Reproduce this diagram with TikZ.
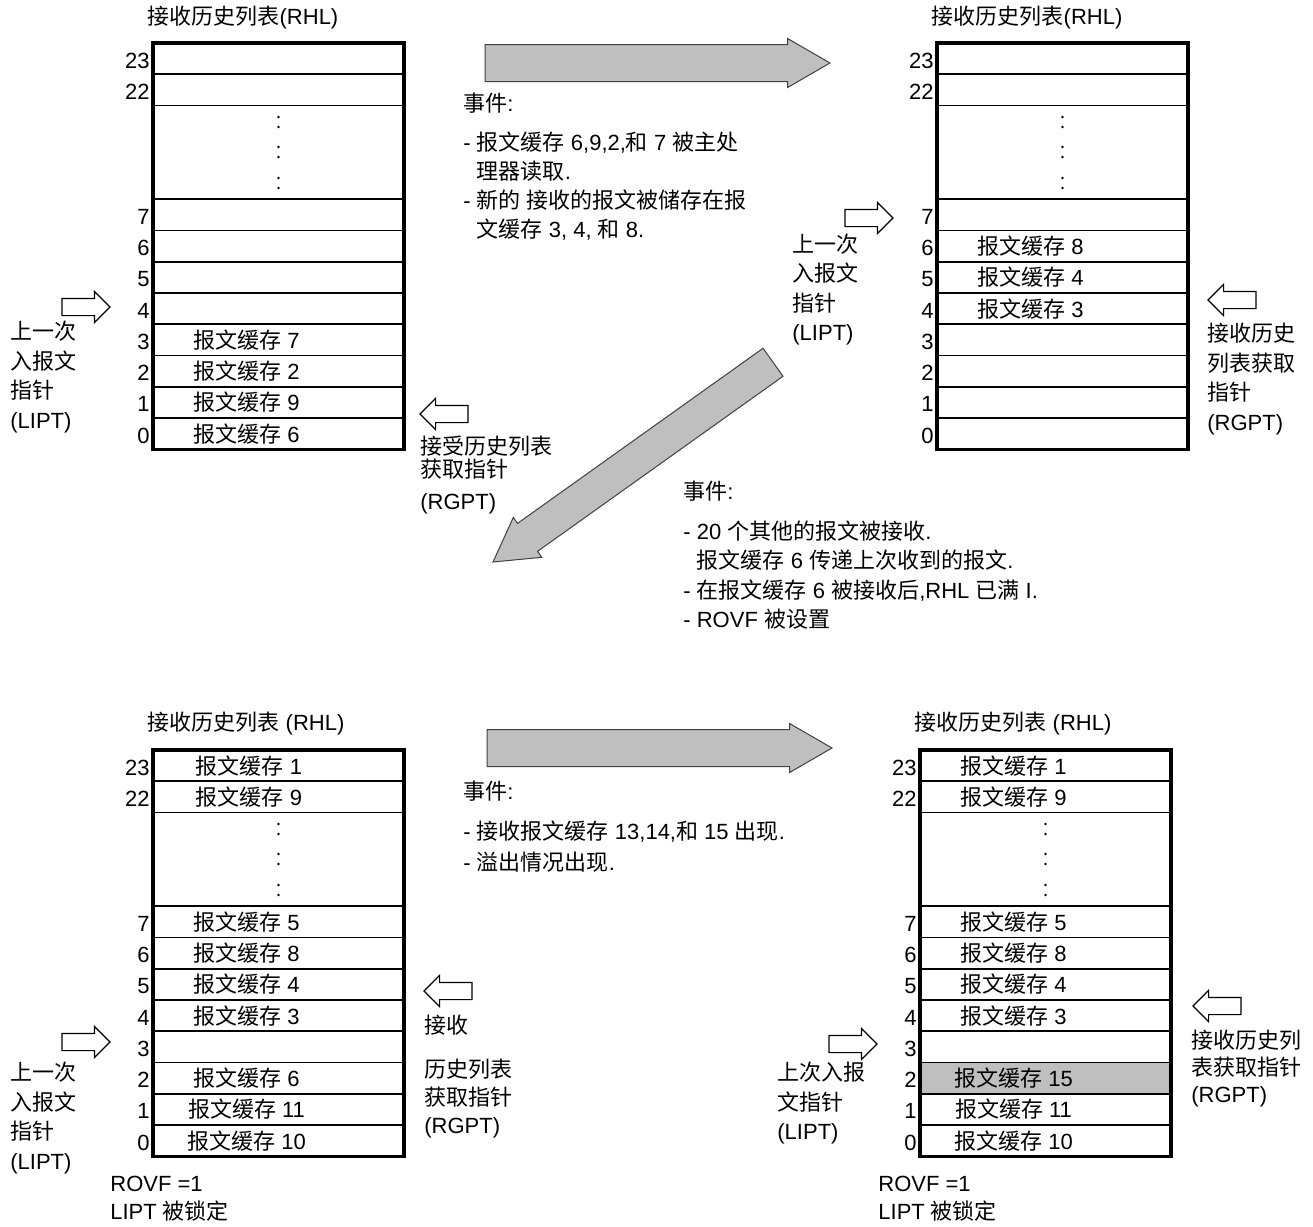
\documentclass[tikz,border=0pt]{standalone}
\usepackage{fontspec}
\setmainfont{Liberation Sans}
\newfontfamily\cjk{Noto Sans CJK SC}
\usetikzlibrary{shapes.arrows}
% CJK runs switch to the CJK font on their own
\XeTeXinterchartokenstate=1
\newXeTeXintercharclass\cjkclass
\makeatletter
\count@="4E00
\loop\ifnum\count@<"A000
  \XeTeXcharclass\count@=\cjkclass
  \advance\count@ by 1
\repeat
\makeatother
\XeTeXinterchartoks 0 \cjkclass = {\begingroup\cjk}
\XeTeXinterchartoks 4095 \cjkclass = {\begingroup\cjk}
\XeTeXinterchartoks \cjkclass 0 = {\endgroup}
\XeTeXinterchartoks \cjkclass 4095 = {\endgroup}

\begin{document}
\begin{tikzpicture}[
  x=0.5pt, y=-0.5pt,
  font=\fontsize{11}{14.75}\selectfont,
  lbl/.style={anchor=west, inner sep=0pt, align=left},
  title/.style={inner sep=0pt},
  cell/.style={inner sep=0pt},
  rownum/.style={anchor=east, inner sep=0pt},
  rowline/.style={line width=0.8pt},
  frame/.style={line width=1.6pt},
  ptr/.style={single arrow, draw, fill=white, line width=0.6pt, inner sep=0pt, outer sep=0pt,
    text height=4pt, text depth=4pt, single arrow head extend=3.5pt, minimum height=24pt, anchor=tip},
  bigarrow/.style={single arrow, draw=black!75, fill=black!25, line width=0.5pt, inner sep=0pt, outer sep=0pt,
    single arrow tip angle=60, minimum height=172.5pt, anchor=tip}
]
  \useasboundingbox (0,0) rectangle (1313,1227);

  % overflow row
  \fill[black!25] (920,{750+10*31.25}) rectangle ++(251,31.25);

  % the four receive history lists
  \foreach \tx/\ty/\tn in {153/43/A, 937/43/B, 153/750/C, 920/750/D} {
    \draw[rowline] \foreach \k in {1,2,5,6,...,12} {(\tx,\ty+\k*31.25) -- ++(251,0)};
    \draw[frame] (\tx,\ty) rectangle ++(251,406.25);
    \foreach \r/\k in {23/0,22/1,7/5,6/6,5/7,4/8,3/9,2/10,1/11,0/12}
      \node[rownum] (\tn n\r) at (\tx-3,\ty+\k*31.25+17.6) {\r};
    \foreach \d in {74,84,104,114,135,145}
      \fill (\tx+125.5,\ty+\d) circle (0.7pt);
  }

  % titles
  \node[title] (tA) at (243,18) {接收历史列表(RHL)};
  \node[title] (tB) at (1027,18) {接收历史列表(RHL)};
  \node[title] (tC) at (246,724) {接收历史列表 (RHL)};
  \node[title] (tD) at (1013,724) {接收历史列表 (RHL)};

  % cell contents
  \foreach \r/\m in {3/7,2/2,1/9,0/6}
    \node[cell] (A\r) at (246.5,{43+(12.5-\r)*31.25}) {报文缓存 \m};
  \foreach \r/\m in {6/8,5/4,4/3}
    \node[cell] (B\r) at (1030.5,{43+(12.5-\r)*31.25}) {报文缓存 \m};
  \foreach \r/\m in {7/5,6/8,5/4,4/3,2/6,1/11,0/10}
    \node[cell] (C\r) at (246.5,{750+(12.5-\r)*31.25}) {报文缓存 \m};
  \node[cell] (C23) at (249,765.6) {报文缓存 1};
  \node[cell] (C22) at (249,796.9) {报文缓存 9};
  \foreach \r/\m in {7/5,6/8,5/4,4/3,2/15,1/11,0/10}
    \node[cell] (D\r) at (1013.5,{750+(12.5-\r)*31.25}) {报文缓存 \m};
  \node[cell] (D23) at (1013.5,765.6) {报文缓存 1};
  \node[cell] (D22) at (1013.5,796.9) {报文缓存 9};

  % big step arrows
  \node[bigarrow, text height=9pt, text depth=9pt, single arrow head extend=3pt] (go1) at (830,63) {};
  \node[bigarrow, text height=8.35pt, text depth=8.35pt, single arrow head extend=3.65pt,
    minimum height=172pt, rotate=215.5] (go2) at (493,562) {};
  \node[bigarrow, text height=9pt, text depth=9pt, single arrow head extend=3pt] (go3) at (832,748) {};

  % pointer arrows
  \node[ptr] (pA1) at (110,307) {};
  \node[ptr, rotate=180] (pA2) at (420,414) {};
  \node[ptr] (pB1) at (893,218) {};
  \node[ptr, rotate=180] (pB2) at (1208,300) {};
  \node[ptr, rotate=180] (pC2) at (424,991) {};
  \node[ptr] (pC1) at (110,1042) {};
  \node[ptr] (pD1) at (877,1044) {};
  \node[ptr, rotate=180] (pD2) at (1193,1006) {};

  % pointer labels
  \node[lbl] (lA1) at (10,377) {上一次\\入报文\\指针\\(LIPT)};
  \node[lbl] (lA2) at (420,446) {接受历史列表};
  \node[lbl] (lA3) at (420,469) {获取指针};
  \node[lbl] (lA4) at (420,504) {(RGPT)};
  \node[lbl] (lB1) at (792,289.5) {上一次\\入报文\\指针\\(LIPT)};
  \node[lbl] (lB2) at (1207,379) {接收历史\\列表获取\\指针\\(RGPT)};
  \node[lbl] (lC1) at (424,1025) {接收};
  \node[lbl, font=\fontsize{11}{14}\selectfont] (lC2) at (424,1083) {历史列表\\获取指针};
  \node[lbl] (lC3) at (424,1128) {(RGPT)};
  \node[lbl] (lC4) at (10,1118) {上一次\\入报文\\指针\\(LIPT)};
  \node[lbl] (lD1) at (777,1103.5) {上次入报\\文指针\\(LIPT)};
  \node[lbl, font=\fontsize{11}{13.5}\selectfont] (lD2) at (1191,1069) {接收历史列\\表获取指针\\(RGPT)};
  \node[lbl, font=\fontsize{11}{14}\selectfont] (oC) at (110,1199) {ROVF =1\\LIPT 被锁定};
  \node[lbl, font=\fontsize{11}{14}\selectfont] (oD) at (878,1199) {ROVF =1\\LIPT 被锁定};

  % events
  \node[lbl] (e1h) at (463,103) {事件:};
  \node[lbl, font=\fontsize{11}{14.5}\selectfont] (e1) at (463,186.5)
    {- 报文缓存 6,9,2,和 7 被主处\\\phantom{- }理器读取.\\- 新的 接收的报文被储存在报\\\phantom{- }文缓存 3, 4, 和 8.};
  \node[lbl] (e2h) at (683,491) {事件:};
  \node[lbl] (e2) at (683,575)
    {- 20 个其他的报文被接收.\\\phantom{- }报文缓存 6 传递上次收到的报文.\\- 在报文缓存 6 被接收后,RHL 已满 I.\\- ROVF 被设置};
  \node[lbl] (e3h) at (463,791) {事件:};
  \node[lbl, font=\fontsize{11}{15.5}\selectfont] (e3) at (463,846.5)
    {- 接收报文缓存 13,14,和 15 出现.\\- 溢出情况出现.};
\end{tikzpicture}
\end{document}
